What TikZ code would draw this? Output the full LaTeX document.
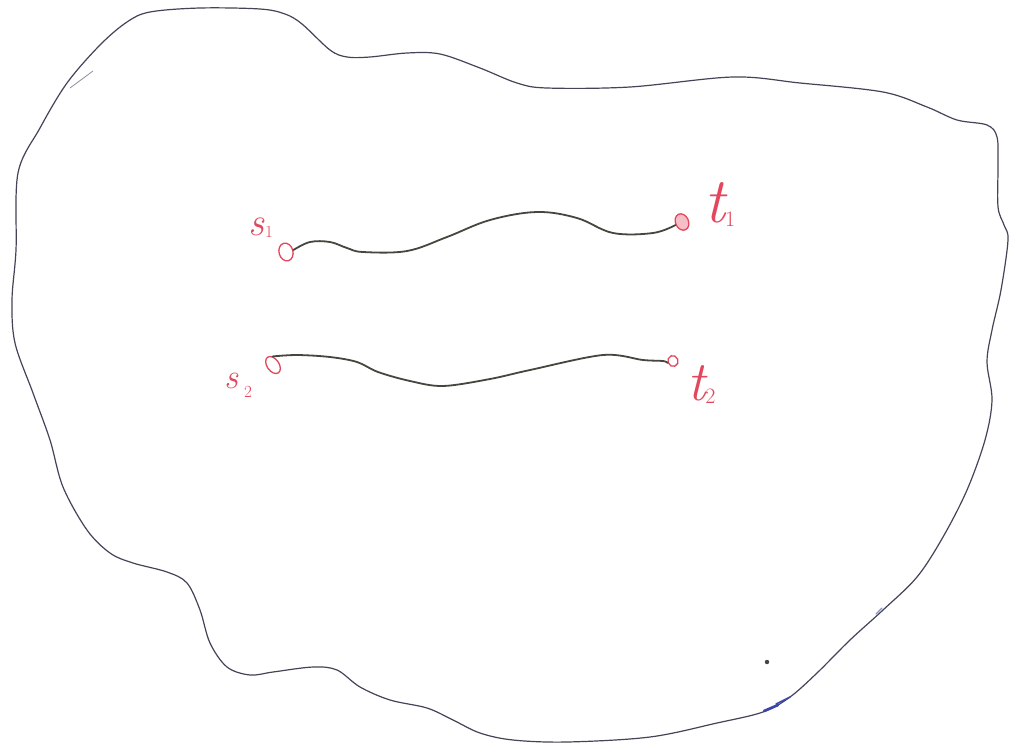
\documentclass[tikz,border=0pt]{standalone}
\usepackage{fontspec}
\usetikzlibrary{shapes.geometric}
\definecolor{outline}{RGB}{68,68,88}
\definecolor{pathgray}{RGB}{70,70,62}
\definecolor{penred}{RGB}{228,70,92}
\definecolor{penblue}{RGB}{60,70,170}
\tikzset{
  border/.style={draw=outline, line width=1.2pt, line join=round},
  route/.style={draw=pathgray, line width=1.8pt, line cap=round, line join=round},
  term/.style={ellipse, draw=penred, line width=1.3pt, inner sep=0pt},
  lbl/.style={text=penred, inner sep=0pt, anchor=base west, font=\itshape},
}
\begin{document}
\begin{tikzpicture}[x=1pt,y=-1pt]
\useasboundingbox[fill=white] (0,0) rectangle (1016,753);

% outer region
\draw[border] plot[smooth cycle, tension=0.55] coordinates {
 (18,173) (40,128) (67,83) (100,45) (127,22) (150,12) (200,8) (260,9) (285,14) (302,24)
 (330,50) (347,57) (370,57) (407,53) (440,54) (480,68) (517,83) (547,88) (630,87)
 (733,77) (800,83) (883,92) (927,107) (957,120) (987,125) (997,137) (998,165) (998,207)
 (1004,225) (1008,240) (1001,290) (992,330) (987,362) (992,400) (985,440) (967,490)
 (943,537) (917,577) (883,610) (850,640) (817,673) (790,697) (763,712) (717,723)
 (650,737) (567,742) (513,740) (480,733) (453,720) (427,708) (390,700) (360,687)
 (337,670) (313,667) (273,672) (250,675) (227,667) (210,643) (200,610) (187,583)
 (167,572) (133,563) (110,553) (87,530) (63,487) (50,440) (33,393) (15,343) (12,300) (16,250)};

% small pen marks
\draw[outline!60, line width=0.8pt] (70,88) -- (93,71);
\fill[pathgray] (767,662) circle (2.2pt);
\draw[penblue, line width=2.6pt, line cap=round] (764,711) -- (778,705);
\draw[penblue, line width=1.6pt, line cap=round] (776,704) -- (790,697);
\draw[penblue!60, line width=1.2pt, line cap=round] (876,614) -- (882,608);

% terminals
\node[term, minimum width=14pt, minimum height=18pt, rotate=15] (s1) at (286,252) {};
\node[term, minimum width=13pt, minimum height=17pt, rotate=25, fill=penred!35] (t1) at (682,222) {};
\node[term, minimum width=12pt, minimum height=19pt, rotate=35] (s2) at (273,365) {};
\node[term, minimum width=10pt, minimum height=11pt, rotate=20] (t2) at (673,361) {};

% labels
\node[lbl] (s1lab) at (248,235) {\fontsize{40}{40}\selectfont s\kern1pt\raisebox{-2pt}{\fontsize{17}{17}\selectfont\upshape 1}};
\node[lbl] (t1lab) at (704,222) {\fontsize{64}{64}\selectfont t\raisebox{-4pt}{\fontsize{22}{22}\selectfont\upshape 1}};
\node[lbl] (s2lab) at (224,388) {\fontsize{35}{35}\selectfont s\kern6pt\raisebox{-9pt}{\fontsize{17}{17}\selectfont\upshape 2}};
\node[lbl] (t2lab) at (687,400) {\fontsize{56}{56}\selectfont t\raisebox{-3pt}{\fontsize{22}{22}\selectfont\upshape 2}};

% routes
\draw[route] plot[smooth, tension=0.6] coordinates {
 (s1.east) (310,242) (330,242) (347,248) (363,252) (407,251) (447,237) (490,220)
 (537,212) (577,218) (613,233) (653,233) (t1.west)};
\draw[route] plot[smooth, tension=0.55] coordinates {
 (s2.north east) (297,355) (330,357) (357,362) (378,372) (410,381) (443,386) (490,379)
 (530,370) (603,355) (643,360) (663,361) (t2.west)};
\end{tikzpicture}
\end{document}
